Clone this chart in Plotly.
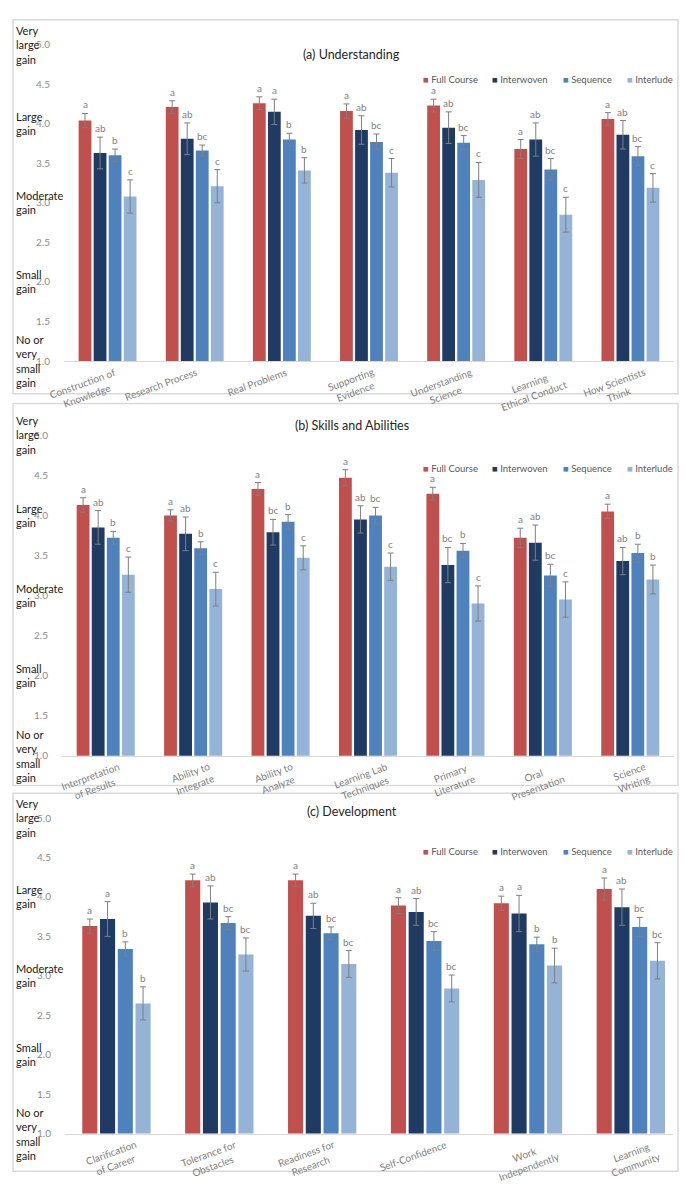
import plotly.graph_objects as go

FONT = "Lato, 'Open Sans', sans-serif"
W, H = 691, 1191

series = ["Full Course", "Interwoven", "Sequence", "Interlude"]
colors = ["#C0504D", "#1F3B63", "#4F81BD", "#95B3D7"]
ticks_y = [1.0, 1.5, 2.0, 2.5, 3.0, 3.5, 4.0, 4.5, 5.0]
tick_text = ["1.0", "1.5", "2.0", "2.5", "3.0", "3.5", "4.0", "4.5", "5.0"]
gain_values = [5.0, 4.0, 3.0, 2.0, 1.0]
gain_labels = ["Very\nlarge\ngain", "Large\ngain", "Moderate\ngain", "Small\ngain", "No or\nvery\nsmall\ngain"]

# ---------------- (a) Understanding ----------------
a_title = "(a) Understanding"
a_categories = ["Construction of\nKnowledge", "Research Process", "Real Problems", "Supporting\nEvidence",
                "Understanding\nScience", "Learning\nEthical Conduct", "How Scientists\nThink"]
a_full = [4.04, 4.21, 4.26, 4.16, 4.23, 3.68, 4.06]
a_full_err = [0.09, 0.08, 0.08, 0.09, 0.08, 0.12, 0.08]
a_inter = [3.63, 3.81, 4.15, 3.92, 3.95, 3.80, 3.86]
a_inter_err = [0.20, 0.20, 0.16, 0.18, 0.20, 0.21, 0.18]
a_seq = [3.60, 3.66, 3.80, 3.77, 3.76, 3.42, 3.59]
a_seq_err = [0.08, 0.07, 0.08, 0.10, 0.09, 0.14, 0.12]
a_lude = [3.08, 3.21, 3.41, 3.38, 3.29, 2.85, 3.19]
a_lude_err = [0.21, 0.21, 0.16, 0.18, 0.22, 0.22, 0.18]
a_full_sig = ["a", "a", "a", "a", "a", "a", "a"]
a_inter_sig = ["ab", "ab", "a", "ab", "ab", "ab", "ab"]
a_seq_sig = ["b", "bc", "b", "bc", "bc", "bc", "bc"]
a_lude_sig = ["c", "c", "b", "c", "c", "c", "c"]

# ---------------- (b) Skills and Abilities ----------------
b_title = "(b) Skills and Abilities"
b_categories = ["Interpretation\nof Results", "Ability to\nIntegrate", "Ability to\nAnalyze", "Learning Lab\nTechniques",
                "Primary\nLiterature", "Oral\nPresentation", "Science\nWriting"]
b_full = [4.13, 4.00, 4.33, 4.47, 4.27, 3.72, 4.05]
b_full_err = [0.09, 0.07, 0.08, 0.10, 0.08, 0.12, 0.09]
b_inter = [3.85, 3.77, 3.79, 3.95, 3.38, 3.66, 3.43]
b_inter_err = [0.21, 0.21, 0.16, 0.17, 0.22, 0.22, 0.17]
b_seq = [3.72, 3.59, 3.92, 4.00, 3.56, 3.25, 3.53]
b_seq_err = [0.08, 0.08, 0.09, 0.10, 0.09, 0.14, 0.11]
b_lude = [3.26, 3.08, 3.47, 3.36, 2.90, 2.95, 3.20]
b_lude_err = [0.22, 0.21, 0.15, 0.17, 0.22, 0.22, 0.18]
b_full_sig = ["a", "a", "a", "a", "a", "a", "a"]
b_inter_sig = ["ab", "ab", "bc", "ab", "bc", "ab", "ab"]
b_seq_sig = ["b", "b", "b", "bc", "b", "bc", "b"]
b_lude_sig = ["c", "c", "c", "c", "c", "c", "b"]

# ---------------- (c) Development ----------------
c_title = "(c) Development"
c_categories = ["Clarification\nof Career", "Tolerance for\nObstacles", "Readiness for\nResearch", "Self-Confidence",
                "Work\nIndependently", "Learning\nCommunity"]
c_full = [3.63, 4.21, 4.21, 3.89, 3.92, 4.10]
c_full_err = [0.09, 0.08, 0.08, 0.10, 0.09, 0.14]
c_inter = [3.72, 3.93, 3.76, 3.81, 3.79, 3.87]
c_inter_err = [0.22, 0.21, 0.16, 0.17, 0.23, 0.23]
c_seq = [3.34, 3.67, 3.54, 3.44, 3.40, 3.62]
c_seq_err = [0.09, 0.08, 0.08, 0.12, 0.09, 0.12]
c_lude = [2.65, 3.27, 3.15, 2.84, 3.13, 3.19]
c_lude_err = [0.21, 0.21, 0.17, 0.17, 0.22, 0.23]
c_full_sig = ["a", "a", "a", "a", "a", "a"]
c_inter_sig = ["a", "ab", "ab", "ab", "a", "ab"]
c_seq_sig = ["b", "bc", "bc", "bc", "b", "bc"]
c_lude_sig = ["b", "bc", "bc", "bc", "b", "bc"]

# ---------------- layout / style (pixels) ----------------
BARGAP = 0.31
BARGROUPGAP = 0.15
panels = [
    dict(title=a_title, cats=a_categories,
         vals=[a_full, a_inter, a_seq, a_lude], errs=[a_full_err, a_inter_err, a_seq_err, a_lude_err],
         sigs=[a_full_sig, a_inter_sig, a_seq_sig, a_lude_sig],
         box=(13, 13, 678, 391), xdom=(64, 674), xrange=(-0.5, 6.5), ypix=(358, 38),
         title_y=48, legend_y=73, label_dx=[16, 7, 9, 13, 25, 28, 23]),
    dict(title=b_title, cats=b_categories,
         vals=[b_full, b_inter, b_seq, b_lude], errs=[b_full_err, b_inter_err, b_seq_err, b_lude_err],
         sigs=[b_full_sig, b_inter_sig, b_seq_sig, b_lude_sig],
         box=(13, 401, 678, 787), xdom=(62, 674), xrange=(-0.5, 6.5), ypix=(757, 433),
         title_y=423, legend_y=467, label_dx=[22, 25, 21, 28, 24, 26, 24]),
    dict(title=c_title, cats=c_categories,
         vals=[c_full, c_inter, c_seq, c_lude], errs=[c_full_err, c_inter_err, c_seq_err, c_lude_err],
         sigs=[c_full_sig, c_inter_sig, c_seq_sig, c_lude_sig],
         box=(13, 795, 678, 1177), xdom=(65, 673), xrange=(-0.5, 5.41), ypix=(1139, 820),
         title_y=813, legend_y=854, label_dx=[29, 26, 21, 25, 36, 34]),
]
legend_x = [421, 490, 561, 625]


def px_x(x):
    return x / W


def px_y(y):
    return 1 - y / H


fig = go.Figure()
annotations = []
shapes = []
layout_axes = {}

for p, pan in enumerate(panels):
    sfx = "" if p == 0 else str(p + 1)
    xa, ya = "x" + sfx, "y" + sfx
    cats_plain = [c.replace("\n", " ") for c in pan["cats"]]
    for j in range(4):
        fig.add_trace(go.Bar(
            x=cats_plain, y=pan["vals"][j], name=series[j], showlegend=False,
            marker=dict(color=colors[j], line=dict(width=0)),
            error_y=dict(type="data", array=pan["errs"][j], color="#7F7F7F", thickness=1, width=3),
            xaxis=xa, yaxis=ya, offsetgroup=str(j),
        ))
        slot = (1 - BARGAP) / 4
        for i, (v, e, s) in enumerate(zip(pan["vals"][j], pan["errs"][j], pan["sigs"][j])):
            annotations.append(dict(
                x=i + (j - 1.5) * slot, y=v + e, xref=xa, yref=ya, text=s, showarrow=False,
                yanchor="bottom", xanchor="center", yshift=1,
                font=dict(family=FONT, size=10, color="#7F7F7F")))
    # category labels (rotated, centered lines)
    for i, c in enumerate(pan["cats"]):
        annotations.append(dict(
            x=i, y=0, xref=xa, yref=ya + " domain", text=c.replace("\n", "<br>"), showarrow=False,
            xanchor="right", yanchor="top", xshift=pan["label_dx"][i], yshift=-2, textangle=-20,
            align="center", font=dict(family=FONT, size=10, color="#808080")))
    # gain labels
    for gv, gl in zip(gain_values, gain_labels):
        annotations.append(dict(
            x=px_x(14), y=gv, xref="paper", yref=ya, text=gl.replace("\n", "<br>"), showarrow=False,
            xanchor="left", yanchor="middle", align="left",
            font=dict(family=FONT, size=11, color="#1A1A1A")))
    # title
    annotations.append(dict(
        x=px_x(352), y=px_y(pan["title_y"]), xref="paper", yref="paper", text=pan["title"],
        showarrow=False, xanchor="center", yanchor="middle",
        font=dict(family=FONT, size=12.5, color="#262626")))
    # legend
    for j in range(4):
        annotations.append(dict(
            x=px_x(legend_x[j]), y=px_y(pan["legend_y"]), xref="paper", yref="paper",
            text=f"<span style='color:{colors[j]}'>■</span> {series[j]}", showarrow=False,
            xanchor="left", yanchor="middle",
            font=dict(family=FONT, size=9.5, color="#595959")))
    # panel border
    x0, y0, x1, y1 = pan["box"]
    shapes.append(dict(type="rect", xref="paper", yref="paper",
                       x0=px_x(x0), x1=px_x(x1), y0=px_y(y1), y1=px_y(y0),
                       line=dict(color="#D9D9D9", width=1.5), fillcolor="rgba(0,0,0,0)", layer="below"))
    y_bot, y_top = pan["ypix"]
    layout_axes["xaxis" + sfx] = dict(
        domain=[px_x(pan["xdom"][0]), px_x(pan["xdom"][1])], range=list(pan["xrange"]),
        anchor=ya, showticklabels=False, ticks="", showgrid=False, zeroline=False,
        showline=True, linecolor="#D9D9D9", linewidth=1)
    layout_axes["yaxis" + sfx] = dict(
        domain=[px_y(y_bot), px_y(y_top)], range=[1, 5], anchor=xa,
        tickvals=ticks_y, ticktext=tick_text, tickfont=dict(family=FONT, size=10, color="#8C8C8C"),
        showgrid=False, zeroline=False, showline=False,
        ticks="outside", ticklen=11, tickcolor="rgba(0,0,0,0)")

fig.update_layout(
    width=W, height=H, margin=dict(l=0, r=0, t=0, b=0),
    paper_bgcolor="white", plot_bgcolor="white",
    barmode="group", bargap=BARGAP, bargroupgap=BARGROUPGAP,
    font=dict(family=FONT), showlegend=False, hovermode=False,
    annotations=annotations, shapes=shapes, **layout_axes)

fig.write_html("out.html", config={"displayModeBar": False, "staticPlot": True},
               post_script="document.body.style.margin='0';document.body.style.overflow='hidden';")
